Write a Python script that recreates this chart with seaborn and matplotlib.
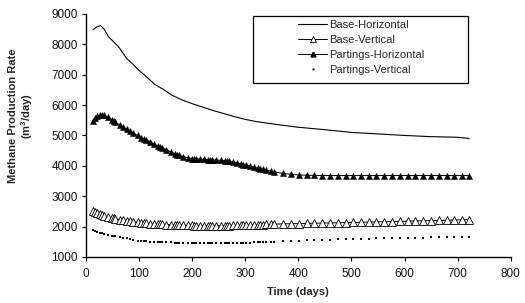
"""
Methane production rate vs time for base and partings cases.
"""
import matplotlib
matplotlib.use("Agg")
import matplotlib.pyplot as plt
from matplotlib.lines import Line2D
from matplotlib.patches import Rectangle
import seaborn as sns

# Base-Horizontal is a plain line, read at its own days
base_h_days = [14, 20, 28, 35, 43, 50, 62, 70, 77, 90, 100, 118, 130, 146, 162, 180, 200,
               218, 240, 260, 281, 300, 320, 340, 360, 400, 450, 500, 550, 600, 650, 700, 722]
base_h_rate = [8480, 8560, 8620, 8500, 8250, 8130, 7920, 7720, 7540, 7330, 7150, 6880, 6680,
               6520, 6330, 6180, 6050, 5945, 5820, 5720, 5615, 5530, 5460, 5410, 5360, 5270,
               5190, 5100, 5050, 5000, 4960, 4940, 4900]

# the marker series share the simulator output times
days = [14, 18, 22, 27, 31, 35, 42, 49, 53, 56,
        65, 70, 77, 84, 90, 98, 105, 109, 113, 121,
        128, 136, 140, 144, 152, 160, 168, 172, 176, 184,
        192, 200, 204, 208, 215, 223, 230, 234, 238, 246,
        254, 262, 266, 270, 278, 285, 293, 297, 301, 309,
        317, 325, 329, 333, 340, 348, 355,
        372, 387, 401, 416, 430, 445, 460, 474, 489, 503,
        518, 533, 547, 562, 576, 591, 606, 620, 635, 649,
        664, 679, 693, 708, 722]

base_v_rate = [2520, 2480, 2450, 2420, 2390, 2360, 2320, 2290, 2270, 2260,
               2230, 2210, 2190, 2175, 2160, 2145, 2130, 2120, 2115, 2100,
               2090, 2080, 2075, 2070, 2065, 2060, 2055, 2050, 2050, 2045,
               2040, 2040, 2035, 2035, 2030, 2030, 2030, 2030, 2030, 2030,
               2030, 2035, 2035, 2035, 2040, 2040, 2045, 2045, 2050, 2050,
               2055, 2060, 2060, 2065, 2070, 2075, 2080,
               2090, 2095, 2100, 2105, 2110, 2115, 2120, 2125, 2130, 2135,
               2140, 2150, 2155, 2160, 2165, 2170, 2180, 2185, 2190, 2195,
               2200, 2205, 2215, 2225, 2230]

partings_h_rate = [5480, 5560, 5630, 5670, 5680, 5660, 5600, 5510, 5470, 5430,
                   5340, 5290, 5200, 5130, 5070, 5000, 4930, 4890, 4860, 4790,
                   4720, 4650, 4620, 4590, 4520, 4460, 4400, 4370, 4350, 4300,
                   4270, 4240, 4230, 4225, 4220, 4210, 4200, 4200, 4195, 4190,
                   4180, 4170, 4160, 4150, 4130, 4100, 4060, 4040, 4020, 3990,
                   3950, 3920, 3900, 3885, 3860, 3830, 3800,
                   3750, 3720, 3700, 3690, 3685, 3680, 3680, 3680, 3680, 3680,
                   3680, 3680, 3680, 3680, 3680, 3680, 3680, 3680, 3680, 3680,
                   3680, 3680, 3680, 3680, 3680]

partings_v_rate = [1900, 1860, 1830, 1800, 1780, 1760, 1730, 1700, 1690, 1680,
                   1650, 1630, 1610, 1580, 1560, 1540, 1530, 1520, 1515, 1505,
                   1500, 1495, 1490, 1490, 1485, 1480, 1475, 1470, 1470, 1465,
                   1460, 1460, 1455, 1455, 1450, 1450, 1450, 1450, 1450, 1450,
                   1450, 1455, 1455, 1455, 1460, 1460, 1465, 1465, 1470, 1475,
                   1480, 1485, 1490, 1490, 1495, 1500, 1505,
                   1515, 1525, 1540, 1550, 1555, 1560, 1570, 1575, 1580, 1590,
                   1595, 1600, 1610, 1615, 1620, 1630, 1635, 1640, 1640, 1645,
                   1650, 1650, 1655, 1655, 1660]

labels = ["Base-Horizontal", "Base-Vertical", "Partings-Horizontal", "Partings-Vertical"]

sns.set_theme(style="ticks")
plt.rcParams["font.family"] = ["Liberation Sans", "DejaVu Sans"]
plt.rcParams["mathtext.fontset"] = "custom"
plt.rcParams["mathtext.rm"] = "Liberation Sans:bold"
plt.rcParams["mathtext.bf"] = "Liberation Sans:bold"

fig = plt.figure(figsize=(5.25, 3.03), dpi=100)
ax = fig.add_axes([0.163, 0.152, 0.81, 0.802])

sns.lineplot(x=base_h_days, y=base_h_rate, ax=ax, color="black", linewidth=0.8,
             estimator=None, sort=False)
sns.lineplot(x=days, y=base_v_rate, ax=ax, color="black", linewidth=0.7,
             marker="^", markersize=5.5, markerfacecolor="white",
             markeredgecolor="black", markeredgewidth=0.6, estimator=None, sort=False)
sns.lineplot(x=days, y=partings_h_rate, ax=ax, color="black", linewidth=0.7,
             marker="^", markersize=4, markerfacecolor="black",
             markeredgecolor="black", markeredgewidth=0.4, estimator=None, sort=False)
sns.scatterplot(x=days, y=partings_v_rate, ax=ax, color="black", s=2.5,
                marker="s", linewidth=0)

ax.set_xlim(0, 800)
ax.set_ylim(1000, 9000)
ax.set_xticks(range(0, 801, 100))
ax.set_yticks(range(1000, 9001, 1000))
ax.tick_params(axis="both", labelsize=8.5, length=3, width=0.8, color="black",
               labelcolor="#111111", direction="out")
ax.tick_params(axis="x", pad=5)
ax.tick_params(axis="y", pad=2.5)
for side in ["top", "right"]:
    ax.spines[side].set_visible(False)
for side in ["left", "bottom"]:
    ax.spines[side].set_linewidth(1.0)
    ax.spines[side].set_color("black")

ax.set_xlabel("Time (days)", fontsize=8, fontweight="bold", labelpad=5)
ax.set_ylabel("Methane Production Rate\n(m$^3$/day)", fontsize=8, fontweight="bold",
              linespacing=1.1)
ax.yaxis.set_label_coords(-0.118, 0.58)

# legend: frame drawn separately, entries sit in its right part
handles = [
    Line2D([], [], color="black", linewidth=0.8),
    Line2D([], [], color="black", linewidth=0.7, marker="^", markersize=4,
           markerfacecolor="white", markeredgecolor="black", markeredgewidth=0.6),
    Line2D([], [], color="black", linewidth=0.7, marker="^", markersize=3.5,
           markerfacecolor="black", markeredgecolor="black"),
    Line2D([], [], color="black", linestyle="none", marker="s", markersize=1.4,
           markeredgewidth=0),
]
ax.legend(handles, labels, loc="upper left", bbox_to_anchor=(0.5, 0.975),
          frameon=False, fontsize=8, handlelength=2.6, handletextpad=0.15,
          labelspacing=0.45, borderpad=0, borderaxespad=0)
ax.add_patch(Rectangle((0.394, 0.716), 0.505, 0.276, transform=ax.transAxes,
                       fill=False, edgecolor="black", linewidth=0.9,
                       clip_on=False, zorder=5))

fig.savefig("out.png", dpi=100)
